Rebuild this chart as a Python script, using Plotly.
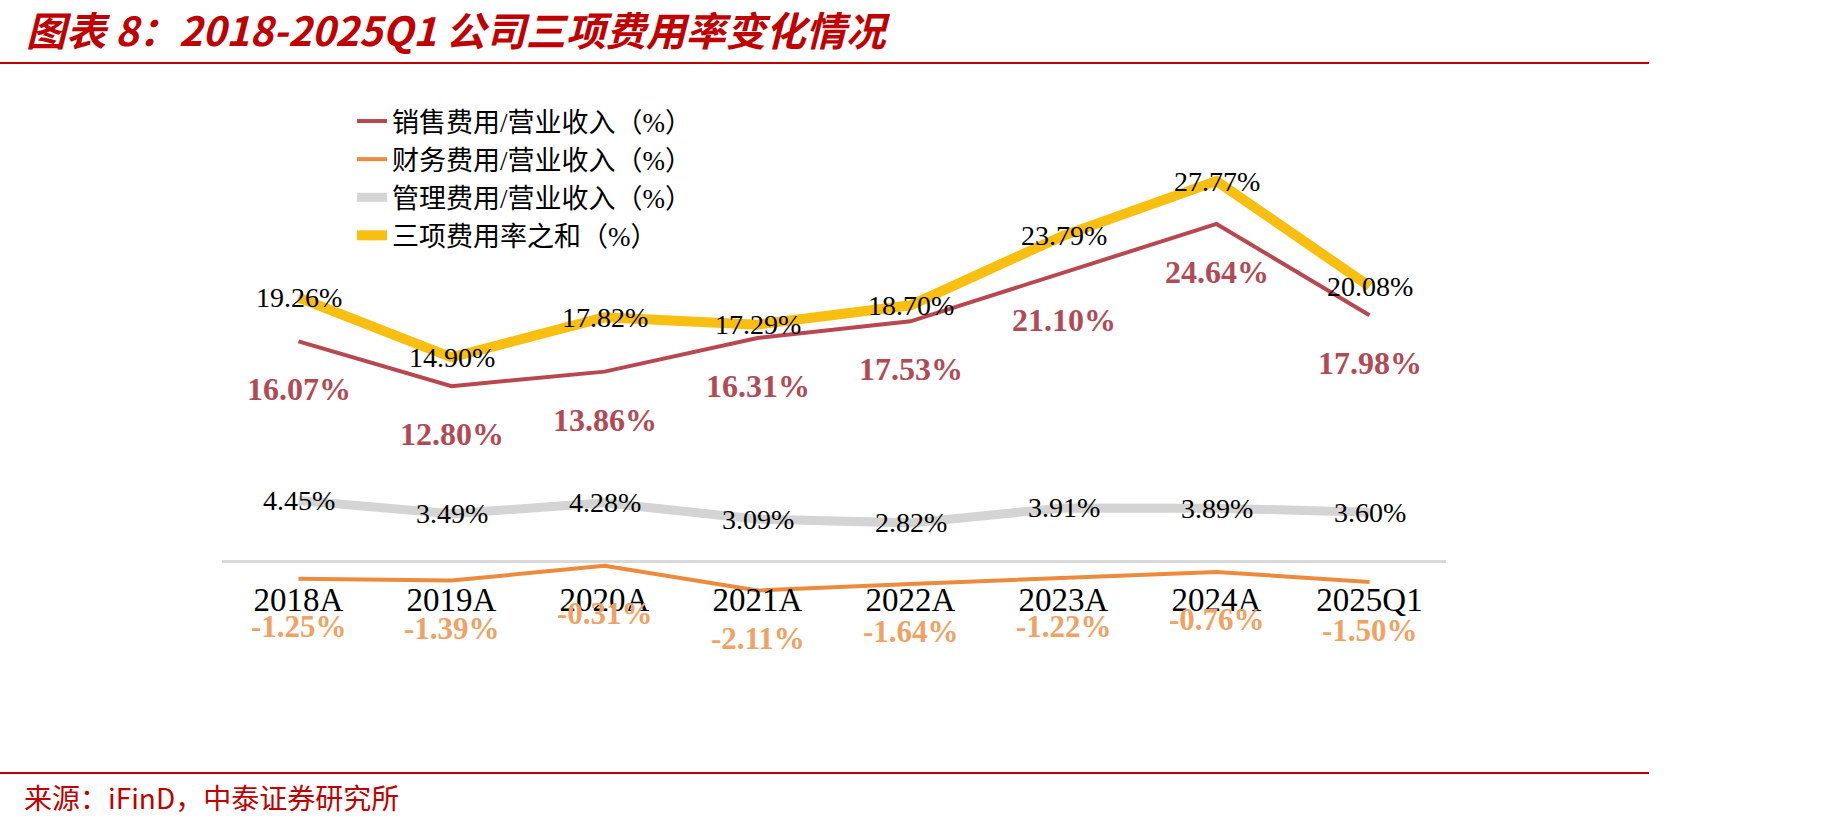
import plotly.graph_objects as go

# ---------------- data ----------------
categories = ["2018A", "2019A", "2020A", "2021A", "2022A", "2023A", "2024A", "2025Q1"]
sales_ratio = [16.07, 12.80, 13.86, 16.31, 17.53, 21.10, 24.64, 17.98]
finance_ratio = [-1.25, -1.39, -0.31, -2.11, -1.64, -1.22, -0.76, -1.50]
admin_ratio = [4.45, 3.49, 4.28, 3.09, 2.82, 3.91, 3.89, 3.60]
total_ratio = [19.26, 14.90, 17.82, 17.29, 18.70, 23.79, 27.77, 20.08]

series_names = ["销售费用/营业收入（%）", "财务费用/营业收入（%）",
                "管理费用/营业收入（%）", "三项费用率之和（%）"]

title_text = "图表 8：2018-2025Q1 公司三项费用率变化情况"
source_text = "来源：iFinD，中泰证券研究所"

# ---------------- layout constants (pixels) ----------------
W, H = 1830, 828
PL, PR = 222, 1446          # plot area left/right
PT, PB = 82, 630            # plot area top/bottom
YMIN, YMAX = -5, 35

def px_x(p):  # pixel x -> paper x
    return (p - PL) / (PR - PL)

def px_y(p):  # pixel y -> paper y
    return (PB - p) / (PB - PT)

RED = "#C00000"
C_SALES = "#B8474F"
C_SALES_TXT = "#B24A55"
C_FIN = "#EE8A3C"
C_FIN_TXT = "#F0A264"
C_ADMIN = "#D4D4D4"
C_TOTAL = "#F9BF10"

SERIF = "Liberation Serif, Times New Roman, serif"
CJK = "Liberation Serif, Noto Sans CJK SC, serif"

fig = go.Figure()

fig.add_trace(go.Scatter(x=categories, y=admin_ratio, mode="lines", name=series_names[2],
                         line=dict(color=C_ADMIN, width=9), legendgroup="c", legendrank=3))
fig.add_trace(go.Scatter(x=categories, y=finance_ratio, mode="lines", name=series_names[1],
                         line=dict(color=C_FIN, width=4), legendgroup="b", legendrank=2))
fig.add_trace(go.Scatter(x=categories, y=total_ratio, mode="lines", name=series_names[3],
                         line=dict(color=C_TOTAL, width=10), legendgroup="d", legendrank=4))
fig.add_trace(go.Scatter(x=categories, y=sales_ratio, mode="lines", name=series_names[0],
                         line=dict(color=C_SALES, width=4), legendgroup="a", legendrank=1))

annotations = []
# centered labels (total & admin)
for vals in (total_ratio, admin_ratio):
    for c, v in zip(categories, vals):
        annotations.append(dict(x=c, y=v, xref="x", yref="y", text=f"{v:.2f}%",
                                showarrow=False, xanchor="center", yanchor="middle",
                                font=dict(family=SERIF, size=28, color="#000000")))
# labels below (sales & finance)
for vals, col, fs in ((sales_ratio, C_SALES_TXT, 32), (finance_ratio, C_FIN_TXT, 31)):
    for c, v in zip(categories, vals):
        annotations.append(dict(x=c, y=v, xref="x", yref="y", text=f"<b>{v:.2f}%</b>",
                                showarrow=False, xanchor="center", yanchor="middle",
                                yshift=-48,
                                font=dict(family=SERIF, size=fs, color=col)))

# title and source text
annotations.append(dict(x=px_x(24), y=px_y(29), xref="paper", yref="paper",
                        text=f"<b><i>{title_text}</i></b>", showarrow=False,
                        xanchor="left", yanchor="middle",
                        font=dict(family="Noto Sans CJK SC, sans-serif", size=40, color=RED)))
annotations.append(dict(x=px_x(22), y=px_y(797), xref="paper", yref="paper",
                        text=source_text, showarrow=False, xanchor="left", yanchor="middle",
                        font=dict(family="Noto Sans CJK SC, sans-serif", size=28, color=RED)))

shapes = [
    dict(type="line", xref="paper", yref="paper", x0=px_x(0), x1=px_x(1649),
         y0=px_y(63), y1=px_y(63), line=dict(color=RED, width=2)),
    dict(type="line", xref="paper", yref="paper", x0=px_x(0), x1=px_x(1649),
         y0=px_y(773), y1=px_y(773), line=dict(color=RED, width=2)),
]

fig.update_layout(
    width=W, height=H,
    margin=dict(l=PL, r=W - PR, t=PT, b=H - PB, pad=0),
    paper_bgcolor="white", plot_bgcolor="white",
    showlegend=True,
    legend=dict(x=px_x(352), y=px_y(97), xanchor="left", yanchor="top",
                bgcolor="rgba(0,0,0,0)", tracegroupgap=14, traceorder="normal",
                font=dict(family=CJK, size=27, color="#000000")),
    xaxis=dict(type="category", range=[-0.5, 7.5], showgrid=False, showline=False,
               zeroline=False, ticks="", anchor="free", position=px_y(577),
               tickfont=dict(family=SERIF, size=33, color="#000000")),
    yaxis=dict(range=[YMIN, YMAX], visible=True, showgrid=False, showticklabels=False,
               ticks="", showline=False, zeroline=True, zerolinecolor="#D9D9D9",
               zerolinewidth=3),
    annotations=annotations,
    shapes=shapes,
)

fig.write_html("out.html")
